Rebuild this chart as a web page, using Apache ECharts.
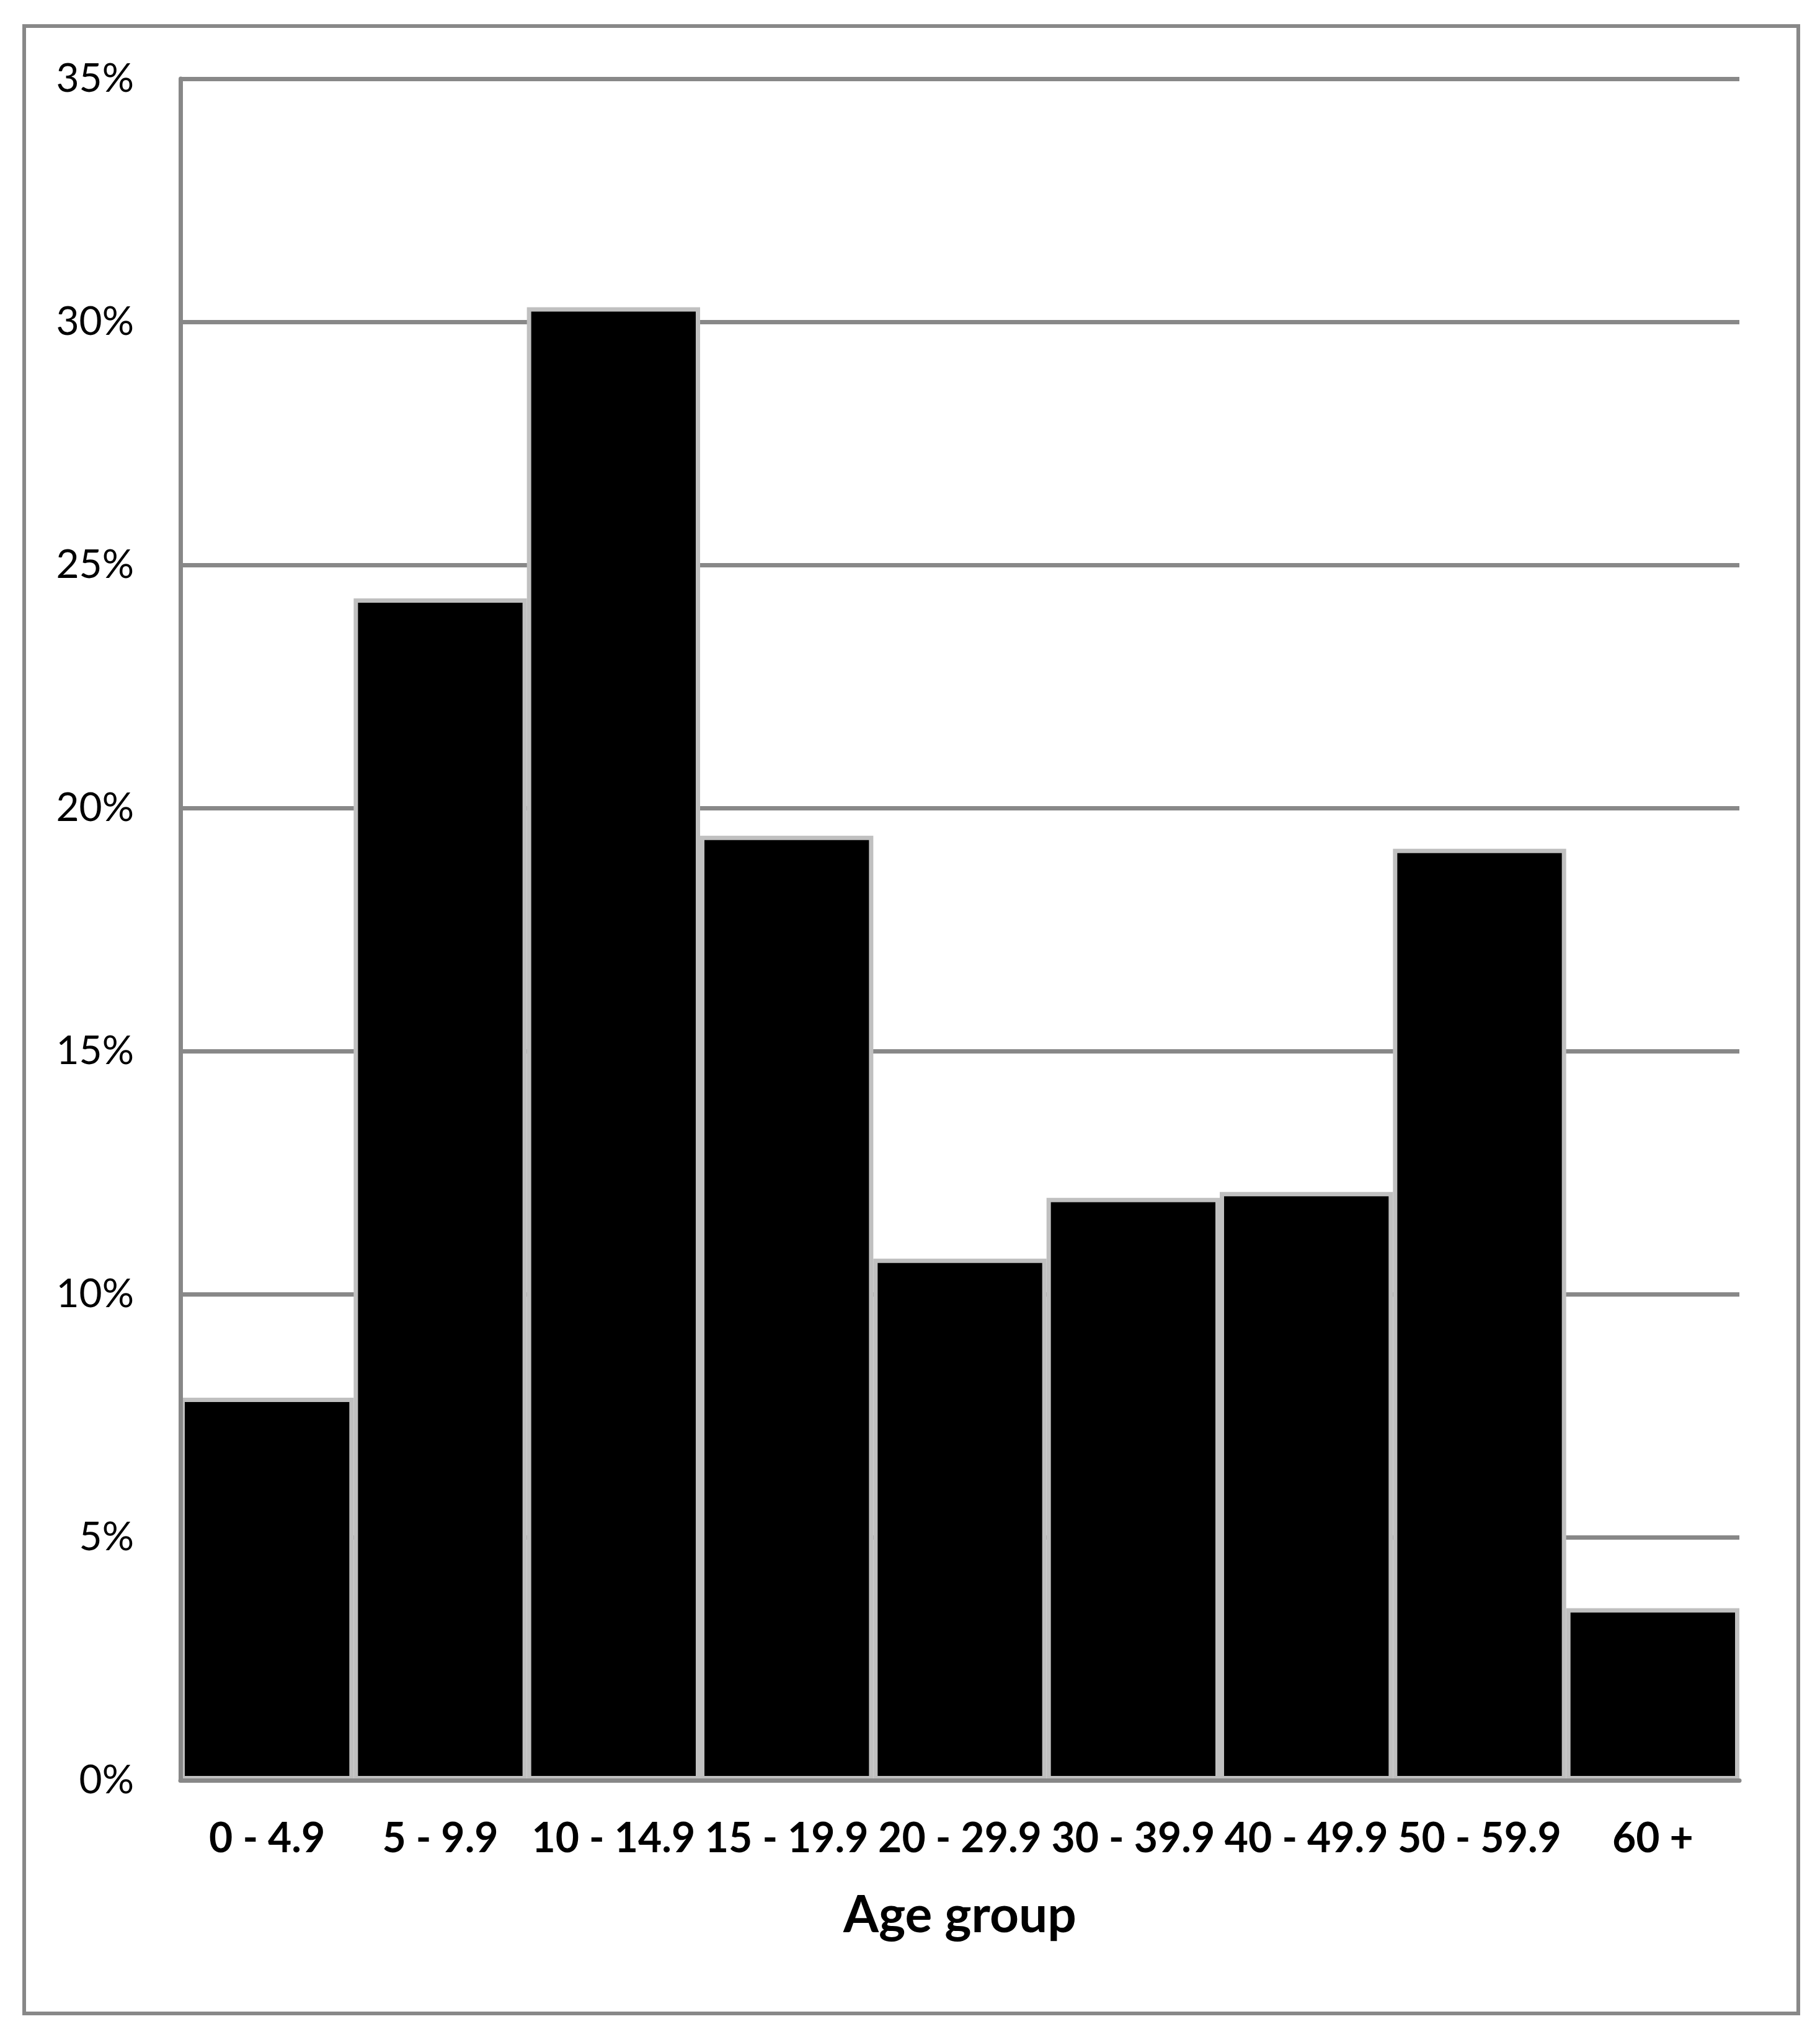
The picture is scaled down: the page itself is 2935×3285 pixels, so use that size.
<!DOCTYPE html>
<html>
<head>
<meta charset="utf-8">
<script src="https://cdn.jsdelivr.net/npm/echarts@6/dist/echarts.min.js"></script>
<style>
  html, body { margin: 0; padding: 0; background: #fff; }
  #chart { width: 2935px; height: 3285px; }
</style>
</head>
<body>
<div id="chart"></div>
<script>
const categories = ['0 - 4.9', '5 - 9.9', '10 - 14.9', '15 - 19.9', '20 - 29.9', '30 - 39.9', '40 - 49.9', '50 - 59.9', '60 +'];
const shareValues = [7.87, 24.31, 30.30, 19.43, 10.73, 11.98, 12.10, 19.16, 3.54];
const yTicks = { min: 0, max: 35, interval: 5 };
const xTitle = 'Age group';

const chart = echarts.init(document.getElementById('chart'), null, { renderer: 'canvas' });
const gray = '#888888';
chart.setOption({
  backgroundColor: '#ffffff',
  animation: false,
  graphic: [{
    type: 'rect',
    shape: { x: 39, y: 42, width: 2861, height: 3205 },
    style: { fill: 'none', stroke: gray, lineWidth: 6 },
    z: -1
  }],
  grid: { left: 291, right: 130, top: 127, bottom: 414, containLabel: false },
  xAxis: {
    type: 'category',
    data: categories,
    z: 5,
    axisLine: { show: true, lineStyle: { color: gray, width: 7 } },
    axisTick: { show: false },
    axisLabel: {
      interval: 0,
      margin: 62,
      color: '#000',
      fontFamily: 'Lato',
      fontWeight: 'bold',
      fontSize: 66,
      lineHeight: 66
    },
    name: xTitle,
    nameLocation: 'middle',
    nameGap: 178,
    nameTextStyle: {
      color: '#000',
      fontFamily: 'Lato',
      fontWeight: 'bold',
      fontSize: 82,
      lineHeight: 82
    }
  },
  yAxis: [{
    type: 'value',
    min: yTicks.min,
    max: yTicks.max,
    interval: yTicks.interval,
    axisLine: { show: false },
    axisTick: { show: false },
    splitLine: { show: true, lineStyle: { color: gray, width: 7 } },
    axisLabel: {
      formatter: '{value}%',
      margin: 75,
      color: '#000',
      fontFamily: 'Lato',
      fontSize: 64
    }
  }, {
    type: 'value',
    position: 'left',
    min: yTicks.min,
    max: yTicks.max,
    interval: yTicks.interval,
    z: 6,
    axisLine: { show: true, onZero: false, lineStyle: { color: gray, width: 7 } },
    axisTick: { show: false },
    splitLine: { show: false },
    axisLabel: { show: false }
  }],
  series: [{
    type: 'bar',
    data: shareValues,
    yAxisIndex: 0,
    barCategoryGap: '0%',
    itemStyle: { color: '#000000', borderColor: '#c0c0c0', borderWidth: 7 }
  }]
});
</script>
</body>
</html>
